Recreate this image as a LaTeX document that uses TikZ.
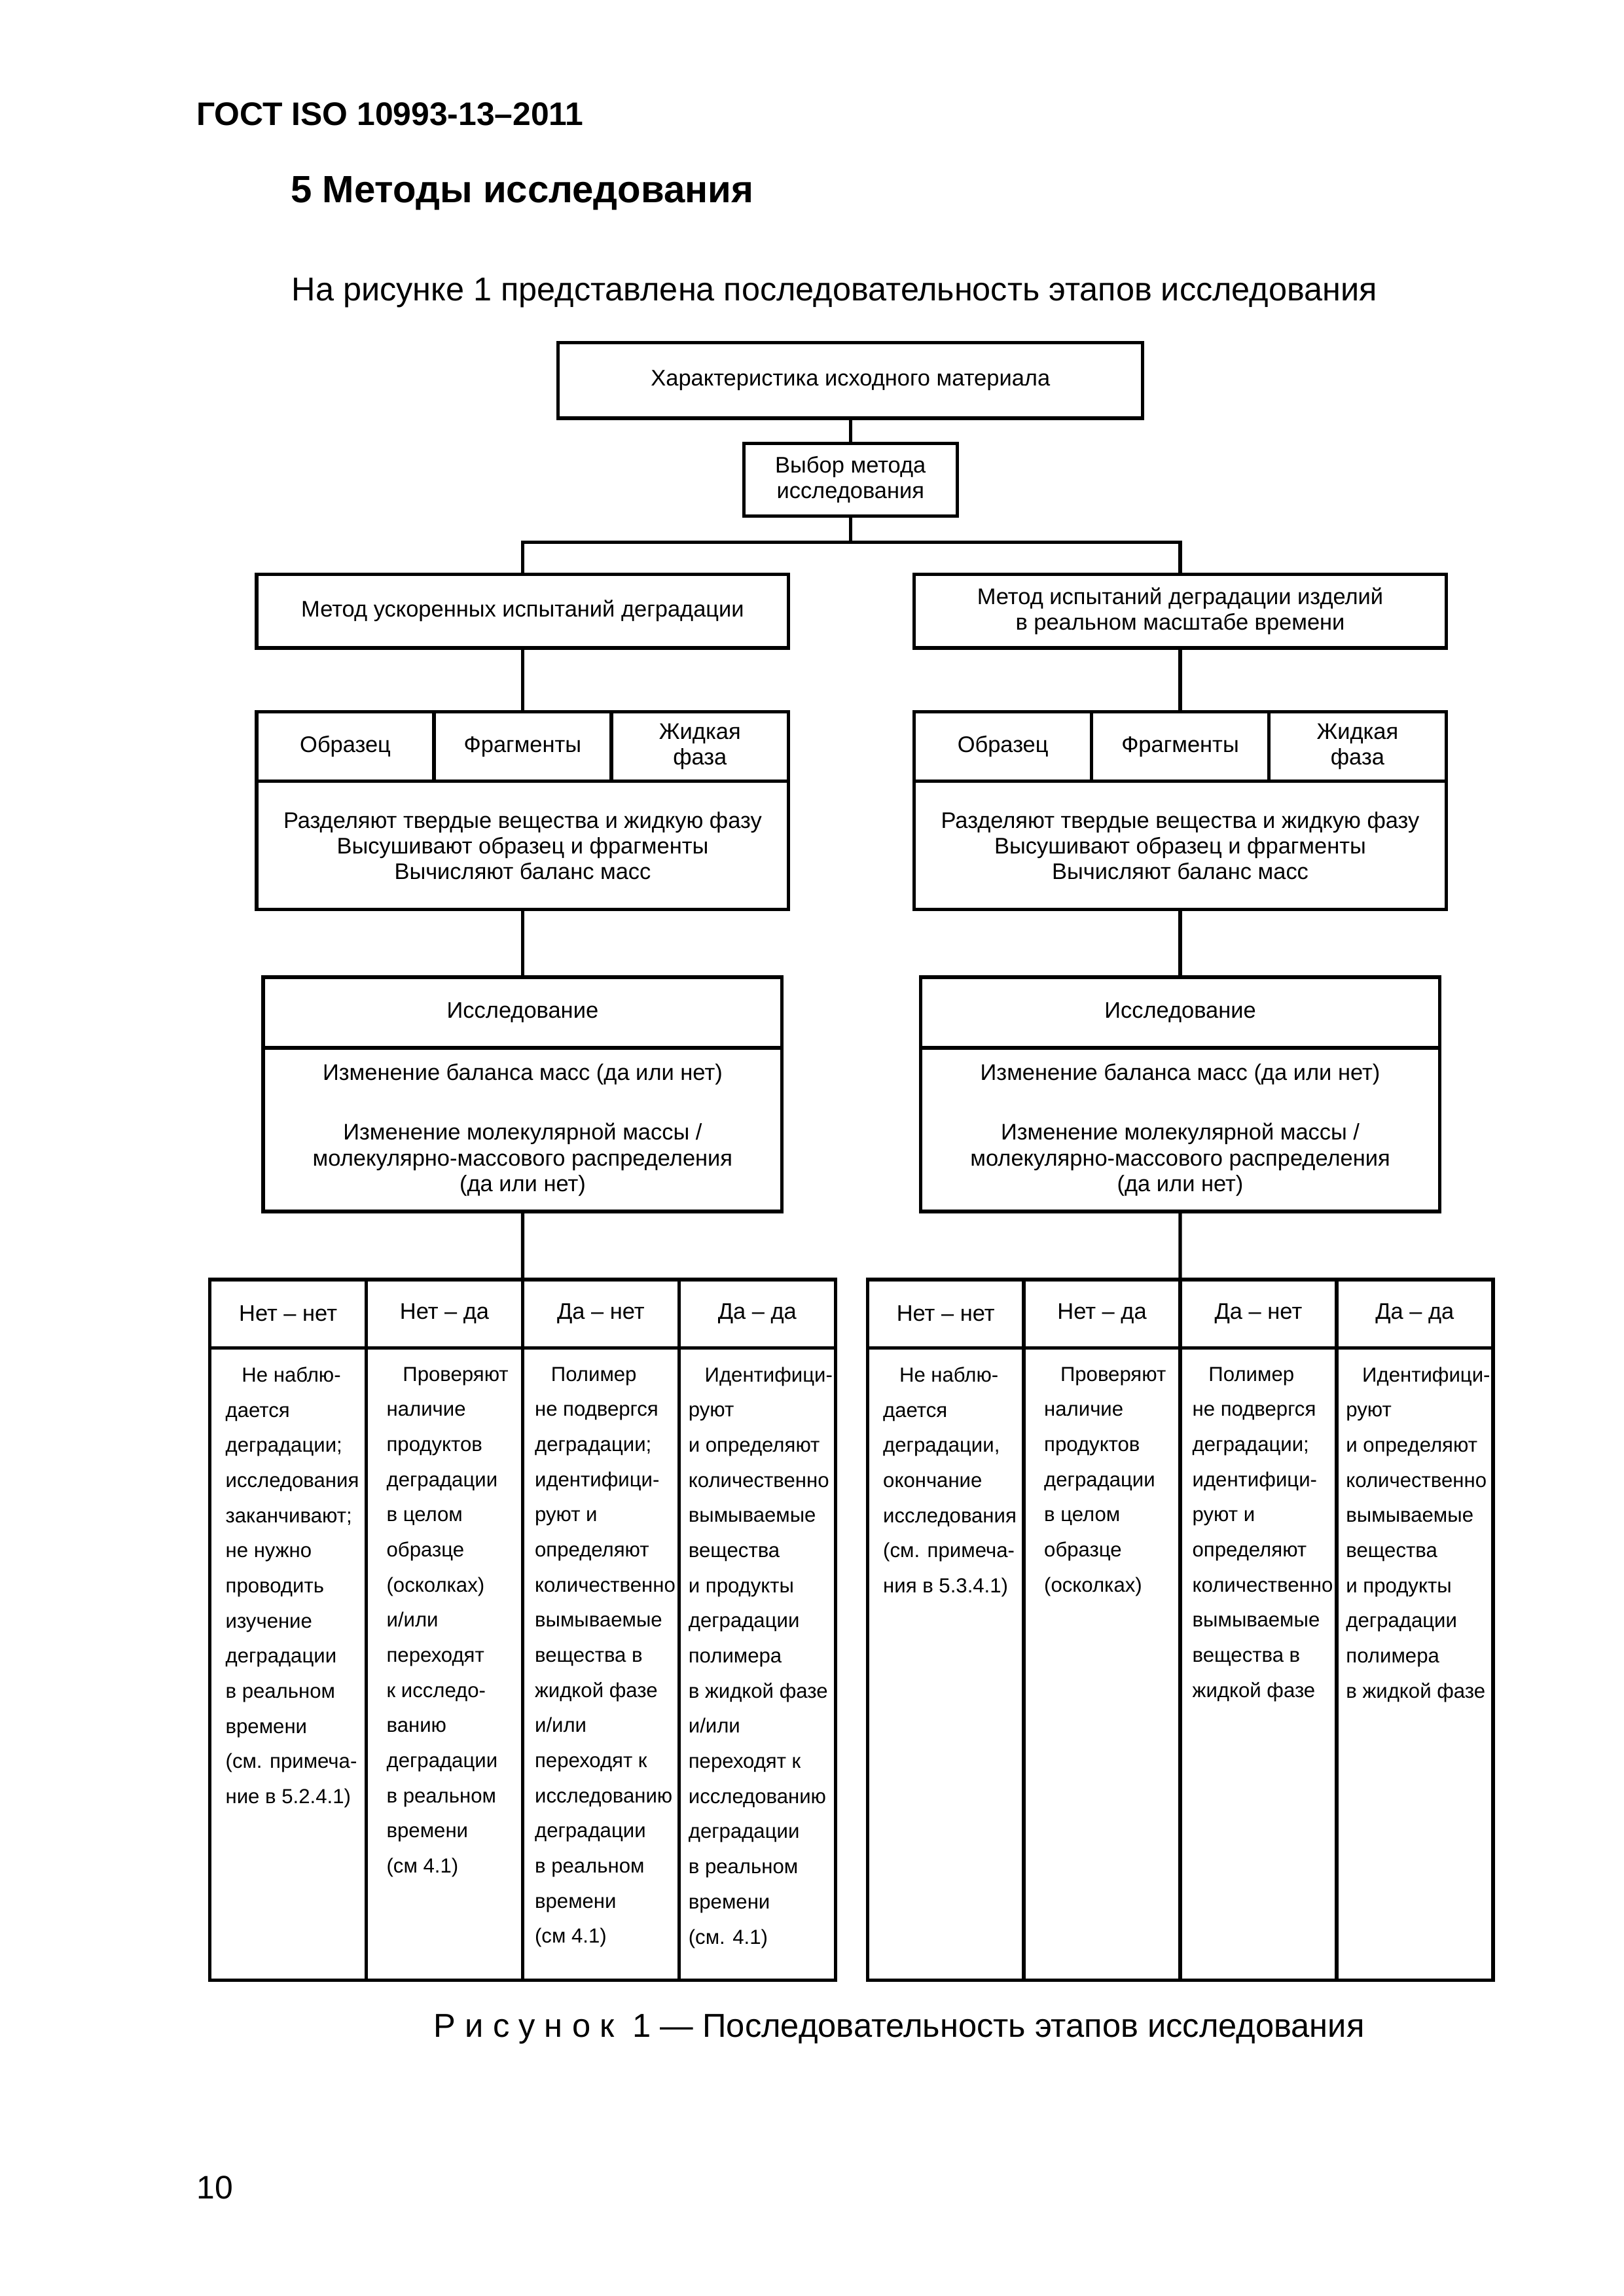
\documentclass[tikz,border=0pt]{standalone}
\usepackage{fontspec}
\setmainfont{Liberation Sans}
\usetikzlibrary{positioning}
\tikzset{frame/.style={draw, line width=1.3pt, inner sep=0pt, outer sep=0pt},
         boxtext/.style={font=\fontsize{8.3}{9.4}\selectfont, align=center},
         headtext/.style={font=\fontsize{8.3}{9.4}\selectfont},
         celltext/.style={font=\fontsize{7.5}{12.93}\selectfont, align=left,
                          anchor=north west, inner sep=0pt}}
\begin{document}
\begin{tikzpicture}[line width=1.3pt]
\useasboundingbox (0,0) rectangle (21,-29.7);
% page head
\node[anchor=west, inner sep=0pt, font=\bfseries\fontsize{12}{14}\selectfont] (gost) at (2.52,-1.48) {ГОСТ ISO 10993-13–2011};
\node[anchor=west, inner sep=0pt, font=\bfseries\fontsize{14}{16}\selectfont] (sect) at (3.74,-2.50) {5 Методы исследования};
\node[anchor=west, inner sep=0pt, font=\fontsize{12.15}{14}\selectfont] (intro) at (3.75,-3.79) {На рисунке 1 представлена последовательность этапов исследования};
% upper boxes
\node[frame, boxtext, minimum width=7.56cm, minimum height=0.98cm] (material) at (11.0,-4.92) {Характеристика исходного материала};
\node[frame, boxtext, minimum width=2.76cm, minimum height=0.94cm] (choice) at (11.0,-6.205) {Выбор метода\\исследования};
\coordinate (bus) at (11.0,-7.014);
\node[frame, boxtext, minimum width=6.88cm, minimum height=0.95cm] (fast) at (6.76,-7.905) {Метод ускоренных испытаний деградации};
\node[frame, boxtext, minimum width=6.88cm, minimum height=0.95cm] (real) at (15.265,-7.905) {Метод испытаний деградации изделий\\в реальном масштабе времени};
\draw (material) -- (choice);
\draw (choice) -- (bus);
\draw (fast.north) |- (bus) -| (real.north);
% sample / fragments / liquid
\foreach \p/\x in {f/6.76, r/15.265}{
  \node[frame, headtext, minimum width=2.2933cm, minimum height=0.898cm] (\p samp) at (\x-2.2933,-9.657) {Образец};
  \node[frame, headtext, minimum width=2.2933cm, minimum height=0.898cm] (\p frag) at (\x,-9.657) {Фрагменты};
  \node[frame, boxtext, minimum width=2.2933cm, minimum height=0.898cm] (\p liq) at (\x+2.2933,-9.657) {Жидкая\\фаза};
  \node[frame, boxtext, minimum width=6.88cm, minimum height=1.66cm] (\p sep) at (\x,-10.936) {Разделяют твердые вещества и жидкую фазу\\Высушивают образец и фрагменты\\Вычисляют баланс масс};
  \node[frame, headtext, minimum width=6.71cm, minimum height=0.915cm] (\p study) at (\x,-13.0965) {Исследование};
  \node[frame, boxtext, minimum width=6.71cm, minimum height=2.118cm] (\p result) at (\x,-14.613) {Изменение баланса масс (да или нет)\\[2.9ex]Изменение молекулярной массы /\\молекулярно-массового распределения\\(да или нет)};
  \foreach \i/\h in {1/Нет – нет, 2/Нет – да, 3/Да – нет, 4/Да – да}{
    \node[frame, headtext, minimum width=2.0225cm, minimum height=0.881cm] (\p head\i) at (\x-4.045+\i*2.0225-1.01125,-16.9935) {\h};
    \node[frame, minimum width=2.0225cm, minimum height=8.183cm] (\p body\i) at (\x-4.045+\i*2.0225-1.01125,-21.5255) {};
  }
}
\draw (fast) -- (ffrag);
\draw (real) -- (rfrag);
\draw (fsep) -- (fstudy);
\draw (rsep) -- (rstudy);
\draw (fresult.south) -- (fhead2.north east);
\draw (rresult.south) -- (rhead2.north east);
% left table text
\node[celltext] (ft1) at ([xshift=0.18cm, yshift=-0.226cm]fbody1.north west) {\hspace*{0.21cm}Не наблю-\\дается\\деградации;\\исследования\\заканчивают;\\не нужно\\проводить\\изучение\\деградации\\в реальном\\времени\\(см. примеча-\\ние в 5.2.4.1)};
\node[celltext] (ft2) at ([xshift=0.24cm, yshift=-0.226cm]fbody2.north west) {\hspace*{0.21cm}Проверяют\\наличие\\продуктов\\деградации\\в целом\\образце\\(осколках)\\и/или\\переходят\\к исследо-\\ванию\\деградации\\в реальном\\времени\\(см 4.1)};
\node[celltext] (ft3) at ([xshift=0.135cm, yshift=-0.226cm]fbody3.north west) {\hspace*{0.21cm}Полимер\\не подвергся\\деградации;\\идентифици-\\руют и\\определяют\\количественно\\вымываемые\\вещества в\\жидкой фазе\\и/или\\переходят к\\исследованию\\деградации\\в реальном\\времени\\(см 4.1)};
\node[celltext] (ft4) at ([xshift=0.10cm, yshift=-0.226cm]fbody4.north west) {\hspace*{0.21cm}Идентифици-\\руют\\и определяют\\количественно\\вымываемые\\вещества\\и продукты\\деградации\\полимера\\в жидкой фазе\\и/или\\переходят к\\исследованию\\деградации\\в реальном\\времени\\(см. 4.1)};
% right table text
\node[celltext] (rt1) at ([xshift=0.18cm, yshift=-0.226cm]rbody1.north west) {\hspace*{0.21cm}Не наблю-\\дается\\деградации,\\окончание\\исследования\\(см. примеча-\\ния в 5.3.4.1)};
\node[celltext] (rt2) at ([xshift=0.24cm, yshift=-0.226cm]rbody2.north west) {\hspace*{0.21cm}Проверяют\\наличие\\продуктов\\деградации\\в целом\\образце\\(осколках)};
\node[celltext] (rt3) at ([xshift=0.135cm, yshift=-0.226cm]rbody3.north west) {\hspace*{0.21cm}Полимер\\не подвергся\\деградации;\\идентифици-\\руют и\\определяют\\количественно\\вымываемые\\вещества в\\жидкой фазе};
\node[celltext] (rt4) at ([xshift=0.10cm, yshift=-0.226cm]rbody4.north west) {\hspace*{0.21cm}Идентифици-\\руют\\и определяют\\количественно\\вымываемые\\вещества\\и продукты\\деградации\\полимера\\в жидкой фазе};
% caption and page number
\node[anchor=west, inner sep=0pt, font=\fontsize{12.2}{14}\selectfont] (caption) at (5.59,-26.25) {Р и с у н о к~~1 — Последовательность этапов исследования};
\node[anchor=west, inner sep=0pt, font=\fontsize{12}{14}\selectfont] (pageno) at (2.52,-28.3) {10};
\end{tikzpicture}
\end{document}
